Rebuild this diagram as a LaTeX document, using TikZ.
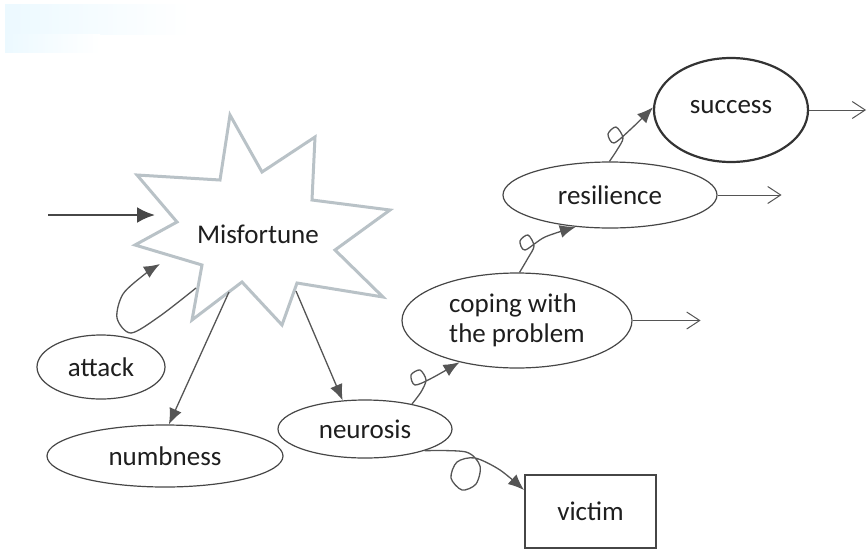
\documentclass[tikz,border=0pt]{standalone}
\usepackage{fontspec}
\setmainfont{Carlito}
\usetikzlibrary{shapes.geometric,arrows.meta}
\definecolor{txtcol}{RGB}{30,30,30}
\definecolor{linecol}{RGB}{70,70,70}
\definecolor{arrcol}{RGB}{85,85,85}
\definecolor{starcol}{RGB}{185,194,199}
\definecolor{haze}{RGB}{236,249,255}
\begin{document}
\begin{tikzpicture}[x=1pt,y=-1pt,
  font=\fontsize{27}{30}\selectfont, text=txtcol,
  bubble/.style={draw=linecol, ellipse, line width=1.2pt, inner sep=0pt},
  link/.style={draw=arrcol, line width=1.3pt, -{Latex[length=16pt,width=13pt]}},
  outlink/.style={draw=arrcol, line width=1pt, -{Straight Barb[length=13pt,width=17pt]}}]
  \useasboundingbox (0,0) rectangle (867,552);
  \shade[left color=haze, right color=white] (5,4) rectangle (190,34);
  \shade[left color=haze, right color=white] (5,34) rectangle (100,52);
  \draw[starcol, line width=3pt, line join=miter, fill=white]
    (230,115) -- (262,172) -- (315,137) -- (312,200) -- (390,210) -- (335,250)
    -- (383,297) -- (297,283) -- (282,325) -- (242,282)
    -- (192,320) -- (202,265) -- (135,245) -- (177,222) -- (137,175) -- (220,180) -- cycle;
  \node (mis) at (258,234) {Misfortune};
  \coordinate (in) at (48,215);
  \coordinate (mis-in) at (155,215);
  \coordinate (mis-out) at (196,288);
  \coordinate (mis-back) at (160,264);
  \coordinate (mis-numb) at (229,292);
  \coordinate (mis-neur) at (296,291);
  \node[bubble, minimum width=128pt, minimum height=64pt] (attack) at (101,367) {attack};
  \node[bubble, minimum width=236pt, minimum height=62pt] (numbness) at (165,456) {numbness};
  \node[bubble, minimum width=174pt, minimum height=58pt] (neurosis) at (365,429) {neurosis};
  \node[draw=linecol, line width=1.2pt, minimum width=131pt, minimum height=73pt] (victim) at (590.5,511.5) {victim};
  \node[bubble, minimum width=230pt, minimum height=95pt, align=left] (coping) at (517,320.5) {coping with\\the problem};
  \node[bubble, minimum width=214pt, minimum height=66pt] (resilience) at (610,195) {resilience};
  \node[bubble, line width=2.2pt, draw=black!80, minimum width=154pt, minimum height=104pt] (success) at (731,110) {\raisebox{6pt}{success}};
  \draw[draw=black!72, line width=2.4pt, -{Latex[length=18pt,width=16pt]}] (in) -- (mis-in);
  \draw[link] plot[smooth] coordinates {(mis-out) (160,316) (131,333) (117,318) (123,294) (145,274) (mis-back)};
  \draw[link] (mis-numb) -- (numbness.83);
  \draw[link] (mis-neur) -- (neurosis.128);
  \draw[link] plot[smooth] coordinates {(neurosis.28) (421,392) (426,380) (420,370) (411,375) (415,385) (432,378) (coping.216)};
  \draw[link] plot[smooth] coordinates {(neurosis.-20) (466,452) (480,466) (476,484) (462,490) (451,478) (457,462) (475,458) (500,470) (524,490)};
  \draw[link] plot[smooth] coordinates {(coping.87) (528,258) (534,246) (528,235) (520,241) (525,250) (545,237) (resilience.223)};
  \draw[link] plot[smooth] coordinates {(resilience.91) (617,150) (623,138) (616,127) (608,134) (614,143) (632,128) (success.178)};
  \draw[outlink] (success.east) -- ++(57,0) coordinate (succ-out);
  \draw[outlink] (resilience.east) -- ++(64,0) coordinate (res-out);
  \draw[outlink] (coping.east) -- ++(68,0) coordinate (cop-out);
\end{tikzpicture}
\end{document}
